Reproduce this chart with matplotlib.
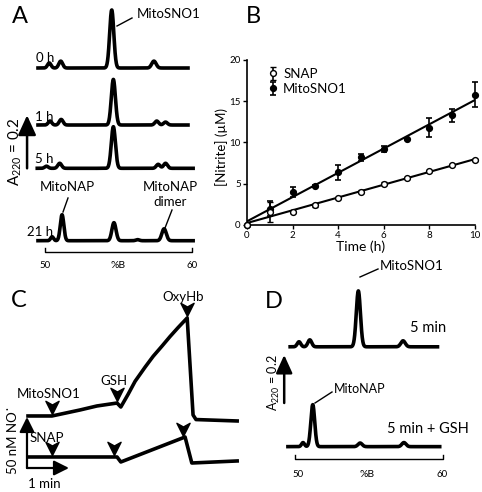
import numpy as np
import matplotlib
matplotlib.use('Agg')
import matplotlib.pyplot as plt
from matplotlib.lines import Line2D
from matplotlib.path import Path
from matplotlib.patches import FancyArrowPatch

plt.rcParams['font.family'] = ['Lato', 'DejaVu Sans']
plt.rcParams['mathtext.fontset'] = 'custom'
plt.rcParams['mathtext.rm'] = 'Lato'
plt.rcParams['mathtext.it'] = 'Lato:italic'
plt.rcParams['mathtext.bf'] = 'Lato:bold'

# ---------------- data ----------------
# Panel A: HPLC peak tables (position in %B, height in A220, sigma in %B)
a_pos_0h = [50.29, 51.07, 54.54, 57.41]
a_hgt_0h = [0.019, 0.026, 0.219, 0.026]
a_wid_0h = [0.12, 0.13, 0.14, 0.15]
a_pos_1h = [50.34, 51.10, 54.65, 57.60, 58.20]
a_hgt_1h = [0.015, 0.021, 0.172, 0.015, 0.011]
a_wid_1h = [0.12, 0.13, 0.14, 0.13, 0.13]
a_pos_5h = [50.10, 51.00, 54.65, 57.70, 58.20]
a_hgt_5h = [0.008, 0.019, 0.157, 0.015, 0.019]
a_wid_5h = [0.12, 0.13, 0.14, 0.13, 0.13]
a_pos_21h = [50.48, 51.16, 54.69, 56.30, 58.10]
a_hgt_21h = [0.015, 0.098, 0.068, 0.004, 0.045]
a_wid_21h = [0.10, 0.12, 0.14, 0.12, 0.15]
a_times = ['0 h', '1 h', '5 h', '21 h']

# Panel B: nitrite release
time_h = [0, 1, 2, 3, 4, 5, 6, 7, 8, 9, 10]
snap = [0, 1.6, 1.55, 2.4, 3.3, 4.05, 5.0, 5.7, 6.5, 7.25, 7.9]
snap_err = [0, 1.2, 0.15, 0.2, 0.15, 0.15, 0.2, 0.1, 0.12, 0.15, 0.12]
mito = [0, 2.0, 4.0, 4.7, 6.4, 8.2, 9.2, 10.4, 11.8, 13.3, 15.8]
mito_err = [0, 0.95, 0.6, 0.15, 0.9, 0.45, 0.4, 0.15, 1.15, 0.8, 1.55]

# Panel C: NO electrode traces (time in min, NO in nM)
c_mito_t = [0, 0.57, 1.24, 1.64, 2.12, 2.21, 2.38, 2.55, 2.79, 2.98, 3.19, 3.38, 3.57, 3.79, 3.93, 4.0, 4.98]
c_mito_no = [51.0, 51.0, 56.9, 60.8, 63.7, 59.8, 72.0, 85.0, 99.0, 109.5, 119.5, 128.8, 137.5, 147.1, 52.0, 47.5, 46.1]
c_snap_t = [0, 2.12, 2.21, 3.74, 3.90, 4.98]
c_snap_no = [10.8, 10.8, 5.9, 30.4, 4.9, 6.9]
c_mito_add = [0.57, 2.12, 3.79]
c_snap_add = [0.57, 2.05, 3.69]

# Panel D: HPLC peak tables
d_pos_5min = [50.27, 51.00, 54.28, 57.30]
d_hgt_5min = [0.021, 0.029, 0.233, 0.025]
d_wid_5min = [0.12, 0.13, 0.14, 0.15]
d_pos_gsh = [50.54, 51.20, 54.40, 57.36]
d_hgt_gsh = [0.017, 0.175, 0.015, 0.017]
d_wid_gsh = [0.10, 0.13, 0.14, 0.14]

# ---------------- layout helpers ----------------
W, H = 482, 492
fig = plt.figure(figsize=(W / 100, H / 100), dpi=100)
TRACE_LW = 2.6


def box(x0, y0, x1, y1):
    return [x0 / W, 1 - y1 / H, (x1 - x0) / W, (y1 - y0) / H]


def T(x, y, s, size, ha='left', va='baseline', **kw):
    fig.text(x / W, 1 - y / H, s, fontsize=size, ha=ha, va=va, **kw)


def L(xs, ys, lw=1.0):
    fig.add_artist(Line2D([x / W for x in xs], [1 - y / H for y in ys],
                          color='k', lw=lw, transform=fig.transFigure))


def chrom(ax, x0, x1, pos, hgt, wid, offset):
    x = np.linspace(x0, x1, 1200)
    y = np.zeros_like(x)
    for p, h, w in zip(pos, hgt, wid):
        y += h * np.exp(-0.5 * ((x - p) / w) ** 2)
    ax.plot(x, y + offset, color='k', lw=TRACE_LW, clip_on=False,
            solid_capstyle='butt', solid_joinstyle='round')


def scale_arrow(ax, xy0, xy1, hl, hw, lw=1.6):
    ax.add_patch(FancyArrowPatch(xy0, xy1, arrowstyle='-|>,head_length=%g,head_width=%g' % (hl, hw),
                                 mutation_scale=10, lw=lw, color='k', shrinkA=0, shrinkB=0,
                                 clip_on=False))


def pct_bar(ax, y, tick):
    ax.plot([50, 50, 60, 60], [y - tick, y, y, y - tick], color='k', lw=1.0, clip_on=False)


# ---------------- Panel A ----------------
axA = fig.add_axes(box(45, 0, 192, 260))
axA.set_xlim(50, 60)
axA.set_ylim(0, 260 / 265)
axA.axis('off')
offA = [0.7245, 0.5094, 0.346, 0.0728]
chrom(axA, 49.4, 59.85, a_pos_0h, a_hgt_0h, a_wid_0h, offA[0])
chrom(axA, 49.4, 59.85, a_pos_1h, a_hgt_1h, a_wid_1h, offA[1])
chrom(axA, 49.35, 60.2, a_pos_5h, a_hgt_5h, a_wid_5h, offA[2])
chrom(axA, 49.4, 60.2, a_pos_21h, a_hgt_21h, a_wid_21h, offA[3])
pct_bar(axA, 0.030, -0.015)
scale_arrow(axA, (48.78, offA[2]), (48.78, offA[2] + 0.2), 1.2, 0.55, lw=1.8)

T(12, 23, 'A', 17)
T(36, 62, a_times[0], 9.5)
T(35, 121, a_times[1], 9.5)
T(35, 163, a_times[2], 9.5)
T(27, 236, a_times[3], 9.5)
T(137, 18, 'MitoSNO1', 9.5)
L([117, 132], [26, 18])
T(67, 191, 'MitoNAP', 9.5, ha='center')
L([63, 68], [212, 198])
T(170, 191, 'MitoNAP', 9.5, ha='center')
T(170, 206, 'dimer', 9.5, ha='center')
L([165, 172], [228, 210])
T(45, 268, '50', 7, ha='center')
T(118, 268, '%B', 7.5, ha='center')
T(192, 268, '60', 7, ha='center')
T(15, 152, r'A$_{220}$ = 0.2', 11, ha='center', va='center', rotation=90)

# ---------------- Panel B ----------------
axB = fig.add_axes(box(247, 60, 475, 225))
t = np.array(time_h, float)
for vals in (snap, mito):
    k, b = np.polyfit(t, vals, 1)
    axB.plot([0, 10], [b, k * 10 + b], color='k', lw=1.5, zorder=2)
axB.errorbar(time_h, mito, yerr=mito_err, fmt='o', color='k', ms=4.2, capsize=2.2,
             elinewidth=1.2, capthick=1.2, clip_on=False, zorder=3, label='MitoSNO1')
axB.errorbar(time_h, snap, yerr=snap_err, fmt='o', color='k', mfc='white', mec='k', mew=1.0,
             ms=4.2, capsize=2.2, elinewidth=1.2, capthick=1.2, clip_on=False, zorder=3,
             label='SNAP')
axB.set_xlim(0, 10)
axB.set_ylim(0, 20)
axB.set_xticks([0, 2, 4, 6, 8, 10])
axB.set_yticks([0, 5, 10, 15, 20])
for s in ('top', 'right'):
    axB.spines[s].set_visible(False)
for s in ('left', 'bottom'):
    axB.spines[s].set_linewidth(1.2)
axB.tick_params(direction='out', length=3, width=1, labelsize=7, pad=1.5)
axB.set_xlabel('Time (h)', fontsize=10, labelpad=0)
axB.set_ylabel('[Nitrite] (µM)', fontsize=9.5, labelpad=0)
axB.yaxis.set_label_coords(-0.082, 0.47)
h, l = axB.get_legend_handles_labels()
axB.legend(h[::-1], l[::-1], loc='upper left', bbox_to_anchor=(0.075, 0.985), frameon=False,
           fontsize=9.5, handlelength=0.6, handletextpad=0.45, labelspacing=0.25, borderaxespad=0)
T(246, 23, 'B', 17)

# ---------------- Panel C ----------------
axC = fig.add_axes(box(28, 290, 240, 470))
axC.set_xlim(0, 212 / 42)
axC.set_ylim(-1.96, 174.5)
axC.axis('off')
axC.plot(c_mito_t, c_mito_no, color='k', lw=TRACE_LW, clip_on=False, solid_joinstyle='round')
axC.plot(c_snap_t, c_snap_no, color='k', lw=TRACE_LW, clip_on=False, solid_joinstyle='round')
head = Path([(0, 0), (-0.5, 1), (0, 0.72), (0.5, 1), (0, 0)],
            [Path.MOVETO, Path.LINETO, Path.LINETO, Path.LINETO, Path.CLOSEPOLY])
for tt, tr, nn in ((c_mito_add, c_mito_t, c_mito_no), (c_snap_add, c_snap_t, c_snap_no)):
    for ta in tt:
        axC.plot([ta], [np.interp(ta, tr, nn) + 1.5], marker=head, ms=19, color='k',
                 clip_on=False, zorder=4)
scale_arrow(axC, (-0.024, 0), (-0.024, 50), 0.9, 0.45, lw=1.6)
scale_arrow(axC, (-0.024, 0), (0.976, 0), 0.9, 0.45, lw=1.6)
T(11, 307, 'C', 17)
T(183, 301, 'OxyHb', 9.5, ha='center')
T(114, 385, 'GSH', 9.5, ha='center')
T(49, 398, 'MitoSNO1', 9.5, ha='center')
T(47, 442, 'SNAP', 9.5, ha='center')
T(28, 488, '1 min', 9.5)
T(13, 440, '50 nM NO˙', 9.5, ha='center', va='center', rotation=90)

# ---------------- Panel D ----------------
axD = fig.add_axes(box(295, 250, 443, 480))
axD.set_xlim(50, 60)
axD.set_ylim(0, 230 / 240)
axD.axis('off')
offD = [0.555, 0.139]
chrom(axD, 49.55, 59.75, d_pos_5min, d_hgt_5min, d_wid_5min, offD[0])
chrom(axD, 49.4, 59.9, d_pos_gsh, d_hgt_gsh, d_wid_gsh, offD[1])
pct_bar(axD, 0.0875, -0.015)
scale_arrow(axD, (49.27, (480 - 403) / 240), (49.27, (480 - 403) / 240 + 0.2), 1.1, 0.5, lw=1.8)
T(265, 308, 'D', 17)
T(380, 270, 'MitoSNO1', 9.5)
L([360, 378], [277, 269])
T(334, 393, 'MitoNAP', 9)
L([315, 332], [403, 392])
T(410, 332, '5 min', 10.5)
T(387, 433, '5 min + GSH', 10.5)
T(298, 477, '50', 7, ha='center')
T(367, 477, '%B', 7.5, ha='center')
T(442, 477, '60', 7, ha='center')
T(274, 383, r'A$_{220}$ = 0.2', 9, ha='center', va='center', rotation=90)

fig.savefig('out.png', dpi=100)
